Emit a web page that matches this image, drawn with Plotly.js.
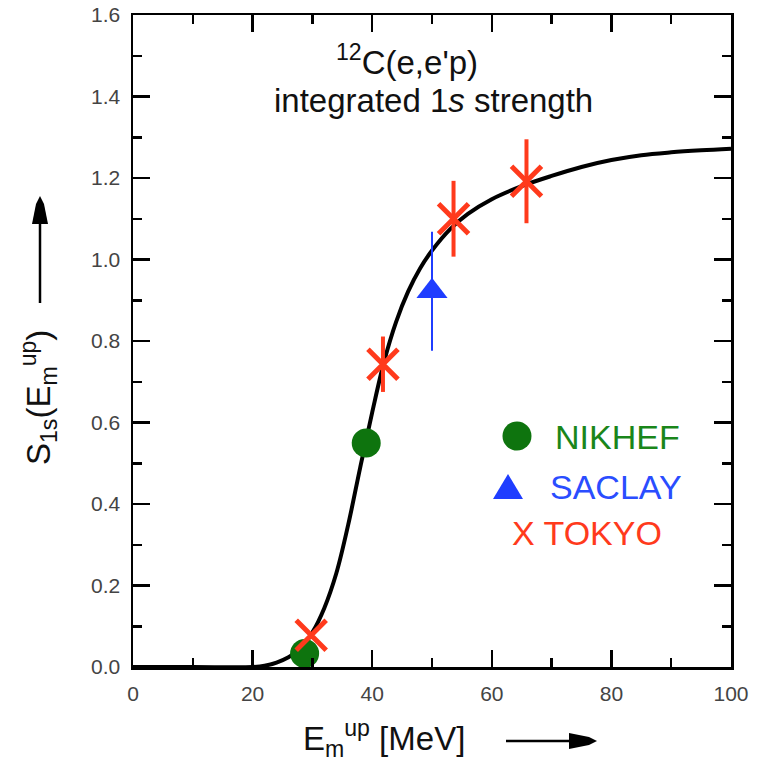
<!DOCTYPE html>
<html>
<head>
<meta charset="utf-8">
<script src="https://cdn.plot.ly/plotly-3.0.1.min.js"></script>
<style>html,body{margin:0;padding:0;background:#fff;}#chart{width:762px;height:767px;}</style>
</head>
<body>
<div id="chart"></div>
<script>
// Model curve: integrated 1s strength vs upper integration limit
const curveX = [0, 10, 20, 22, 24, 26, 28, 30, 32, 34, 36, 38, 40, 42, 44, 46, 48, 50, 53, 56, 60, 65, 70, 75, 80, 85, 90, 95, 100];
const curveY = [0, 0, 0, 0.003, 0.011, 0.024, 0.045, 0.085, 0.145, 0.23, 0.35, 0.49, 0.625, 0.75, 0.847, 0.921, 0.978, 1.022, 1.074, 1.112, 1.148, 1.18, 1.205, 1.227, 1.244, 1.256, 1.263, 1.268, 1.272];

// NIKHEF
const nikhefX = [28.7, 39.0];
const nikhefY = [0.033, 0.55];
// SACLAY
const saclayX = [50.0];
const saclayY = [0.922];
const saclayErr = [0.146];
// TOKYO
const tokyoX = [29.8, 41.8, 53.6, 65.8];
const tokyoY = [0.078, 0.743, 1.100, 1.192];
const tokyoErr = [0, 0.068, 0.093, 0.103];

const xTickVals = [0, 20, 40, 60, 80, 100];
const yTickVals = [0, 0.2, 0.4, 0.6, 0.8, 1.0, 1.2, 1.4, 1.6];

const GREEN = '#0e740e', BLUE = '#1f3dff', RED = '#ff3a1c';
const FONT = 'Liberation Sans, Arial, Helvetica, sans-serif';

const traces = [
  {x: curveX, y: curveY, mode: 'lines', line: {color: '#000', width: 4, shape: 'spline', smoothing: 1}, showlegend: false, hoverinfo: 'skip'},
  {x: nikhefX, y: nikhefY, mode: 'markers', name: 'NIKHEF', marker: {symbol: 'circle', size: 29, color: GREEN}, showlegend: false},
  {x: saclayX, y: saclayY, mode: 'markers', name: 'SACLAY', marker: {symbol: 'triangle-up', size: 27, color: BLUE},
   error_y: {type: 'data', array: saclayErr, visible: true, color: BLUE, thickness: 2, width: 0}, showlegend: false},
  {x: tokyoX, y: tokyoY, mode: 'markers', name: 'TOKYO', marker: {symbol: 'x-thin-open', size: 30, color: RED, line: {color: RED, width: 5}},
   error_y: {type: 'data', array: tokyoErr, visible: true, color: RED, thickness: 4, width: 0}, showlegend: false}
];

const L = 133, T = 15, W = 598, H = 652;
const px = v => (v - L) / W;
const py = v => (T + H - v) / H;

const axisCommon = {
  showline: true, linecolor: '#000', linewidth: 2.5, mirror: 'ticks',
  ticks: 'inside', ticklen: 17, tickwidth: 2.5, tickcolor: '#000',
  showgrid: false, zeroline: false,
  tickfont: {family: FONT, size: 21, color: '#444'}
};

const layout = {
  width: 762, height: 767,
  margin: {l: L, r: 762 - L - W, t: T, b: 767 - T - H},
  paper_bgcolor: '#fff', plot_bgcolor: '#fff',
  showlegend: false,
  xaxis: Object.assign({}, axisCommon, {
    range: [0, 100], tickvals: xTickVals, ticklabelstandoff: 6,
    minor: {dtick: 10, tick0: 0, ticklen: 9, tickwidth: 2.5, tickcolor: '#000', ticks: 'inside'}
  }),
  yaxis: Object.assign({}, axisCommon, {
    range: [0, 1.6], tickvals: yTickVals, tickformat: '.1f', ticklabelstandoff: 6,
    minor: {dtick: 0.1, tick0: 0, ticklen: 9, tickwidth: 2.5, tickcolor: '#000', ticks: 'inside'}
  }),
  annotations: [
    {xref: 'paper', yref: 'paper', x: px(407), y: py(60), text: "<sup>12</sup>C(e,e'p)", showarrow: false,
     font: {family: FONT, size: 33, color: '#111'}, xanchor: 'center', yanchor: 'middle'},
    {xref: 'paper', yref: 'paper', x: px(433), y: py(100), text: 'integrated 1<i>s</i> strength', showarrow: false,
     font: {family: FONT, size: 33, color: '#111'}, xanchor: 'center', yanchor: 'middle'},
    {xref: 'paper', yref: 'paper', x: px(553), y: py(437), text: 'NIKHEF', showarrow: false,
     font: {family: FONT, size: 34, color: '#1a861a'}, xanchor: 'left', yanchor: 'middle'},
    {xref: 'paper', yref: 'paper', x: px(548), y: py(487), text: 'SACLAY', showarrow: false,
     font: {family: FONT, size: 34, color: '#2a4dff'}, xanchor: 'left', yanchor: 'middle'},
    {xref: 'paper', yref: 'paper', x: px(510), y: py(533), text: 'X TOKYO', showarrow: false,
     font: {family: FONT, size: 34, color: RED}, xanchor: 'left', yanchor: 'middle'},
    // axis titles
    {xref: 'paper', yref: 'paper', x: px(384), y: py(738), text: 'E<sub>m</sub><sup>up</sup> [MeV]', showarrow: false,
     font: {family: FONT, size: 33, color: '#111'}, xanchor: 'center', yanchor: 'middle'},
    {xref: 'paper', yref: 'paper', x: px(38), y: py(398), text: 'S<sub>1s</sub>(E<sub>m</sub><sup>up</sup>)', showarrow: false,
     textangle: -90, font: {family: FONT, size: 33, color: '#111'}, xanchor: 'center', yanchor: 'middle'}
  ],
  shapes: [
    {type: 'circle', xref: 'paper', yref: 'paper', xsizemode: 'pixel', ysizemode: 'pixel',
     xanchor: px(517), yanchor: py(436), x0: -14.5, x1: 14.5, y0: -14.5, y1: 14.5,
     fillcolor: GREEN, line: {width: 0}},
    {type: 'path', xref: 'paper', yref: 'paper', xsizemode: 'pixel', ysizemode: 'pixel',
     xanchor: px(508), yanchor: py(488), path: 'M -15,-11 L 15,-11 L 0,14 Z',
     fillcolor: BLUE, line: {width: 0}},
    // vertical arrow (y axis)
    {type: 'line', xref: 'paper', yref: 'paper', xsizemode: 'pixel', ysizemode: 'pixel',
     xanchor: px(40), yanchor: py(303), x0: 0, x1: 0, y0: 0, y1: 85, line: {color: '#000', width: 2.5}},
    {type: 'path', xref: 'paper', yref: 'paper', xsizemode: 'pixel', ysizemode: 'pixel',
     xanchor: px(40), yanchor: py(196), path: 'M 0,0 L -4,-8 L -8,-28 L 8,-28 L 4,-8 Z',
     fillcolor: '#000', line: {width: 0}},
    // horizontal arrow (x axis)
    {type: 'line', xref: 'paper', yref: 'paper', xsizemode: 'pixel', ysizemode: 'pixel',
     xanchor: px(506), yanchor: py(741), x0: 0, x1: 66, y0: 0, y1: 0, line: {color: '#000', width: 2.5}},
    {type: 'path', xref: 'paper', yref: 'paper', xsizemode: 'pixel', ysizemode: 'pixel',
     xanchor: px(597), yanchor: py(741), path: 'M 0,0 L -8,4 L -28,8 L -28,-8 L -8,-4 Z',
     fillcolor: '#000', line: {width: 0}}
  ]
};

Plotly.newPlot('chart', traces, layout, {displayModeBar: false, staticPlot: true});
</script>
</body>
</html>
